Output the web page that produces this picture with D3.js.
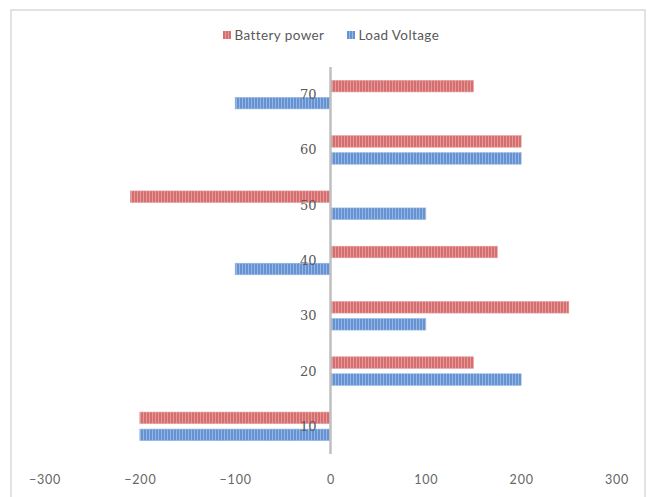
<!DOCTYPE html>
<html>
<head>
<meta charset="utf-8">
<script src="https://cdn.jsdelivr.net/npm/d3@7/dist/d3.min.js"></script>
<style>
  html, body { margin: 0; padding: 0; background: #ffffff; }
  svg { display: block; }
</style>
</head>
<body>
<svg id="chart" width="648" height="497"></svg>
<script>
// Categories (bottom to top) and the two series plotted against them
const categories = [10, 20, 30, 40, 50, 60, 70];
const batteryPower = [-200, 150, 250, 175, -210, 200, 150];
const loadVoltage = [-200, 200, 100, -100, 100, 200, -100];
const seriesNames = ["Battery power", "Load Voltage"];
const xTicks = [-300, -200, -100, 0, 100, 200, 300];

const series = [
  { name: seriesNames[0], values: batteryPower, base: "#d66e70", light: "#e49a9b", id: "stripeRed" },
  { name: seriesNames[1], values: loadVoltage, base: "#6592d2", light: "#95b5e2", id: "stripeBlue" }
];

const svg = d3.select("#chart");

// Striped fills for the bars
const defs = svg.append("defs");
series.forEach(s => {
  const p = defs.append("pattern")
    .attr("id", s.id)
    .attr("patternUnits", "userSpaceOnUse")
    .attr("width", 3).attr("height", 10);
  p.append("rect").attr("width", 3).attr("height", 10).attr("fill", s.base);
  p.append("rect").attr("x", 2).attr("width", 1).attr("height", 10).attr("fill", s.light);
});

// Outer frame
svg.append("rect")
  .attr("x", 11).attr("y", 10)
  .attr("width", 634).attr("height", 500)
  .attr("fill", "none")
  .attr("stroke", "#d9d9d9")
  .attr("stroke-width", 1.5);

const x = d3.scaleLinear().domain([-300, 300]).range([44.5, 616.5]);

const y = d3.scaleBand()
  .domain(categories.slice().reverse())
  .range([67, 454])
  .paddingInner(0).paddingOuter(0);

const ySeries = d3.scaleBand()
  .domain(seriesNames)
  .range([0, y.bandwidth()])
  .paddingInner(0.32)
  .paddingOuter(0.786);

// Bars
series.forEach(s => {
  svg.append("g").selectAll("rect")
    .data(categories.map((c, i) => ({ c, v: s.values[i] })))
    .join("rect")
    .attr("x", d => Math.min(x(0), x(d.v)))
    .attr("width", d => Math.abs(x(d.v) - x(0)))
    .attr("y", d => y(d.c) + ySeries(s.name))
    .attr("height", ySeries.bandwidth())
    .attr("fill", `url(#${s.id})`)
    .attr("stroke", s.light)
    .attr("stroke-width", 0.6);
});

// Vertical category axis at zero
svg.append("line")
  .attr("x1", x(0)).attr("x2", x(0))
  .attr("y1", 67).attr("y2", 454)
  .attr("stroke", "#bfbfbf")
  .attr("stroke-width", 2.5);

// Category labels beside the axis
svg.append("g").selectAll("text")
  .data(categories)
  .join("text")
  .attr("x", x(0) - 14)
  .attr("y", d => y(d) + y.bandwidth() / 2)
  .attr("dy", "0.35em")
  .attr("text-anchor", "end")
  .attr("font-family", "DejaVu Serif, serif")
  .attr("font-size", 13)
  .attr("fill", "#595959")
  .text(d => d);

// Value axis labels along the bottom
const xAxis = d3.axisBottom(x).tickValues(xTicks).tickSize(0).tickPadding(0);
const gx = svg.append("g")
  .attr("transform", "translate(0,475)")
  .call(xAxis);
gx.select(".domain").remove();
gx.selectAll("text")
  .attr("font-family", "Lato, sans-serif")
  .attr("font-size", 12.5)
  .attr("letter-spacing", "0.8px")
  .attr("fill", "#666666")
  .attr("dy", "0.71em");

// Legend
const legend = svg.append("g").attr("font-family", "Lato, sans-serif").attr("font-size", 13.5);
const legendPos = [223, 347];
series.forEach((s, i) => {
  const g = legend.append("g").attr("transform", `translate(${legendPos[i]},31)`);
  g.append("rect").attr("width", 8).attr("height", 8).attr("fill", `url(#${s.id})`);
  g.append("text")
    .attr("x", 11.5).attr("y", 4)
    .attr("dy", "0.35em")
    .attr("letter-spacing", "0.4px")
    .attr("fill", "#595959")
    .text(s.name);
});
</script>
</body>
</html>
